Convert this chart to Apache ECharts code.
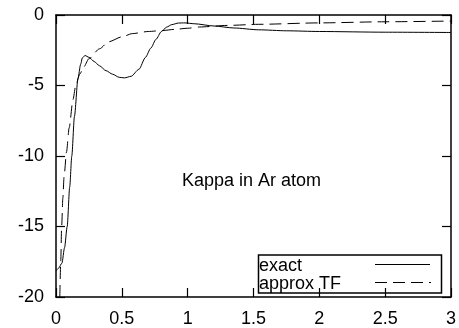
<!DOCTYPE html>
<html>
<head>
<meta charset="utf-8">
<script src="https://cdn.jsdelivr.net/npm/echarts@6/dist/echarts.min.js"></script>
<style>
html,body{margin:0;padding:0;background:#fff;}
#chart{width:459px;height:328px;}
</style>
</head>
<body>
<div id="chart"></div>
<script>
const xTicks = [0, 0.5, 1, 1.5, 2, 2.5, 3];
const yTicks = [-20, -15, -10, -5, 0];
const seriesNames = ['exact', 'approx TF'];
const annotation = 'Kappa in Ar atom';

const exactX = [0, 0.02, 0.045, 0.065, 0.085, 0.104, 0.12, 0.14, 0.167, 0.187, 0.2, 0.22, 0.25, 0.29, 0.33, 0.38, 0.43, 0.48, 0.52, 0.57, 0.63, 0.68, 0.72, 0.76, 0.80, 0.84, 0.88, 0.93, 0.98, 1.05, 1.2, 1.35, 1.54, 1.75, 2, 2.5, 3];
const exactY = [-18.15, -17.95, -17.6, -16.5, -15, -12.2, -10, -7.2, -4.5, -3.5, -3.05, -2.87, -3.0, -3.3, -3.6, -3.95, -4.2, -4.42, -4.46, -4.35, -3.85, -3.0, -2.35, -1.72, -1.18, -0.86, -0.68, -0.57, -0.56, -0.62, -0.78, -0.92, -1.05, -1.12, -1.17, -1.22, -1.24];

const tfX = [0.029, 0.036, 0.043, 0.052, 0.061, 0.08, 0.1, 0.129, 0.15, 0.18, 0.21, 0.25, 0.33, 0.4, 0.5, 0.58, 0.7, 0.81, 0.9, 1.0, 1.09, 1.3, 1.54, 2, 2.5, 3];
const tfY = [-20, -17.5, -15, -13, -11.5, -9.7, -8.0, -6.0, -5.0, -4.2, -3.7, -3.1, -2.4, -1.9, -1.55, -1.32, -1.17, -1.1, -1.02, -0.94, -0.85, -0.74, -0.66, -0.56, -0.48, -0.43];

const zip = (xs, ys) => xs.map((x, i) => [x, ys[i]]);

const FONT = 'Liberation Sans, Arial, Helvetica, sans-serif';
const chart = echarts.init(document.getElementById('chart'), null, {renderer: 'canvas'});

const xMin = xTicks[0], xMax = xTicks[xTicks.length - 1], xInt = xTicks[1] - xTicks[0];
const yMin = yTicks[0], yMax = yTicks[yTicks.length - 1], yInt = yTicks[1] - yTicks[0];

const axisLine = {show: true, onZero: false, lineStyle: {color: '#000', width: 1.5}};
const axisTick = {show: true, inside: true, length: 9, lineStyle: {color: '#000', width: 1.2}};

chart.setOption({
  animation: false,
  backgroundColor: '#fff',
  grid: {left: 56, right: 6, top: 15, bottom: 27, containLabel: false},
  xAxis: [
    {type: 'value', min: xMin, max: xMax, interval: xInt, position: 'bottom',
     axisLine, axisTick, splitLine: {show: false},
     axisLabel: {color: '#000', fontFamily: FONT, fontSize: 18, margin: 13,
       formatter: v => String(v)}},
    {type: 'value', min: xMin, max: xMax, interval: xInt, position: 'top',
     axisLine, axisTick, splitLine: {show: false}, axisLabel: {show: false}}
  ],
  yAxis: [
    {type: 'value', min: yMin, max: yMax, interval: yInt, position: 'left',
     axisLine, axisTick, splitLine: {show: false},
     axisLabel: {color: '#000', fontFamily: FONT, fontSize: 18, margin: 12,
       formatter: v => String(v)}},
    {type: 'value', min: yMin, max: yMax, interval: yInt, position: 'right',
     axisLine, axisTick, splitLine: {show: false}, axisLabel: {show: false}}
  ],
  series: [
    {name: seriesNames[0], type: 'line', data: zip(exactX, exactY), showSymbol: false,
     smooth: 0.25, smoothMonotone: 'x', clip: true,
     lineStyle: {color: '#000', width: 1}},
    {name: seriesNames[1], type: 'line', data: zip(tfX, tfY), showSymbol: false,
     smooth: 0.25, smoothMonotone: 'x', clip: true,
     lineStyle: {color: '#000', width: 1, type: [12, 6]}}
  ],
  graphic: [
    {type: 'text', left: 182, top: 172,
     style: {text: annotation, fill: '#000', font: '18px ' + FONT}},
    {type: 'rect', shape: {x: 258.5, y: 255, width: 183, height: 38},
     style: {fill: 'none', stroke: '#000', lineWidth: 1.5}},
    {type: 'text', left: 259, top: 257,
     style: {text: seriesNames[0], fill: '#000', font: '18px ' + FONT}},
    {type: 'text', left: 259, top: 275,
     style: {text: seriesNames[1], fill: '#000', font: '18px ' + FONT}},
    {type: 'line', shape: {x1: 375, y1: 264.5, x2: 430, y2: 264.5},
     style: {stroke: '#000', lineWidth: 1}},
    {type: 'line', shape: {x1: 375, y1: 282.5, x2: 431, y2: 282.5},
     style: {stroke: '#000', lineWidth: 1, lineDash: [12, 6]}}
  ]
});
</script>
</body>
</html>
